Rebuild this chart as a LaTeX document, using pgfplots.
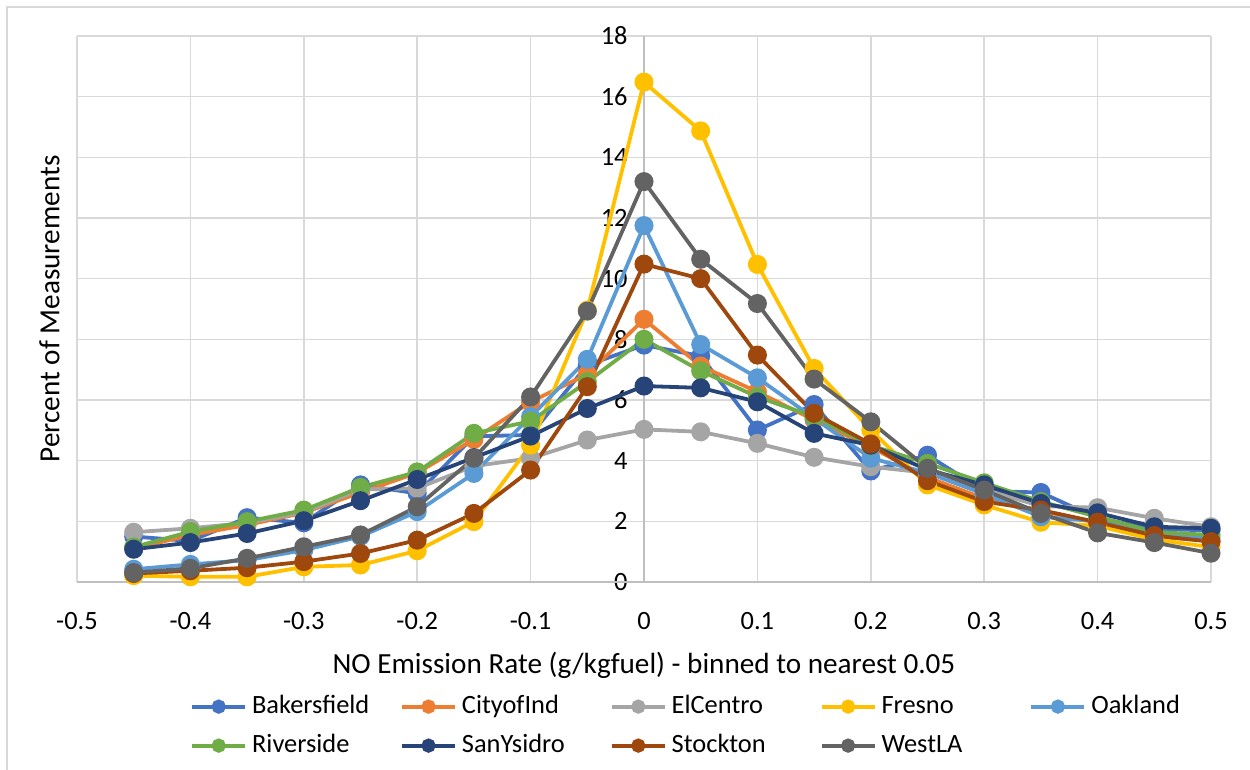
\documentclass[border=0pt]{standalone}
\usepackage{fontspec}
\setmainfont{Carlito}
\usepackage{pgfplots}
\pgfplotsset{compat=1.18}
\usepackage{pgfplotstable}

\definecolor{cBak}{HTML}{4472C4}
\definecolor{cCity}{HTML}{ED7D31}
\definecolor{cElC}{HTML}{A5A5A5}
\definecolor{cFre}{HTML}{FFC000}
\definecolor{cOak}{HTML}{5B9BD5}
\definecolor{cRiv}{HTML}{70AD47}
\definecolor{cSan}{HTML}{264478}
\definecolor{cSto}{HTML}{9E480E}
\definecolor{cWes}{HTML}{636363}
\definecolor{gridc}{HTML}{D9D9D9}
\definecolor{axisc}{HTML}{BFBFBF}

\pgfplotstableread{
x     Bak  City ElC  Fre   Oak   Riv  San  Sto   Wes
-0.45 1.50 1.10 1.64 0.21  0.42  1.15 1.08 0.28  0.31
-0.40 1.35 1.55 1.77 0.17  0.58  1.66 1.30 0.37  0.45
-0.35 2.12 1.88 1.95 0.17  0.72  1.99 1.60 0.47  0.78
-0.30 1.95 2.28 2.30 0.50  1.05  2.37 2.02 0.67  1.16
-0.25 3.20 2.95 3.05 0.56  1.50  3.12 2.68 0.94  1.55
-0.20 2.92 3.60 3.09 1.03  2.32  3.63 3.38 1.38  2.48
-0.15 4.80 4.70 3.82 1.99  3.58  4.90 4.10 2.26  4.08
-0.10 4.85 5.94 4.08 4.51  5.45  5.30 4.81 3.69  6.10
-0.05 7.15 6.85 4.68 8.96  7.34  6.60 5.72 6.44  8.93
0.00  7.81 8.66 5.03 16.48 11.75 8.00 6.46 10.48 13.20
0.05  7.45 7.12 4.95 14.87 7.83  6.96 6.40 10.00 10.64
0.10  5.01 6.27 4.57 10.47 6.73  6.10 5.94 7.48  9.18
0.15  5.85 5.34 4.11 7.04  5.40  5.45 4.90 5.56  6.69
0.20  3.66 4.45 3.80 5.01  4.08  4.50 4.51 4.55  5.28
0.25  4.18 3.45 3.60 3.20  3.60  3.91 3.70 3.34  3.75
0.30  3.00 2.75 3.05 2.54  2.90  3.27 3.20 2.65  3.03
0.35  2.95 2.35 2.50 1.97  2.15  2.65 2.59 2.37  2.26
0.40  2.10 1.95 2.45 1.85  2.00  2.15 2.28 1.97  1.62
0.45  1.75 1.50 2.10 1.40  1.60  1.65 1.82 1.53  1.30
0.50  1.70 1.35 1.82 1.15  1.45  1.55 1.77 1.33  0.95
}\data

\newcommand{\lt}[1]{\makebox[71.5pt][l]{#1}}
\newcommand{\fs}{\fontsize{14.6pt}{17pt}\selectfont}
\newcommand{\fst}{\fontsize{13.2pt}{16pt}\selectfont}

\begin{document}
\fs
\begin{tikzpicture}[x=1pt,y=1pt]
\useasboundingbox (0,0) rectangle (625,385);
\draw[gridc, line width=0.8pt] (3.4,0) -- (3.4,381.6) -- (625,381.6);
\begin{axis}[
  at={(38.5pt,94pt)}, anchor=south west,
  scale only axis, width=567pt, height=273pt,
  xmin=-0.5, xmax=0.5, ymin=0, ymax=18,
  xtick={-0.5,-0.4,-0.3,-0.2,-0.1,0,0.1,0.2,0.3,0.4,0.5},
  xticklabels={-0.5,-0.4,-0.3,-0.2,-0.1,0,0.1,0.2,0.3,0.4,0.5},
  ytick={0,2,4,6,8,10,12,14,16,18},
  yticklabels={0,2,4,6,8,10,12,14,16,18},
  major tick length=0pt,
  axis line style={draw=none},
  grid=major,
  major grid style={gridc, line width=0.8pt},
  extra x ticks={0}, extra x tick labels={},
  extra x tick style={major grid style={axisc, line width=0.8pt}},
  extra y ticks={0}, extra y tick labels={},
  extra y tick style={major grid style={axisc, line width=0.8pt}},
  tick label style={font=\fst},
  xticklabel style={anchor=base, yshift=-23.8pt},
  yticklabel style={anchor=east, inner sep=0pt, xshift=275.5pt},
  xlabel={NO Emission Rate (g/kgfuel) - binned to nearest 0.05},
  ylabel={Percent of Measurements},
  label style={font=\fs},
  xlabel style={at={(axis description cs:0.5,0)}, anchor=base, yshift=-45.8pt},
  ylabel style={at={(axis description cs:-0.0155,0.5)}, anchor=base, rotate=0},
  every axis plot/.append style={line width=1.9pt, mark=*, mark size=3.8pt},
  legend columns=5,
  legend style={draw=none, fill=none, at={(axis description cs:0.0996,-0.2037)}, anchor=north west,
    font=\fst,
    nodes={text height=10pt, text depth=3pt, inner ysep=0pt, inner xsep=2.5pt},
    row sep=6.5pt, inner sep=0pt,
    /tikz/every even column/.append style={column sep=0pt}},
  legend image code/.code={\draw[mark repeat=2,mark phase=2,mark size=2.6pt] plot coordinates {(0pt,0pt)(13.25pt,0pt)(26.5pt,0pt)};},
]
\addplot[cBak, mark options={fill=cBak}] table[x=x,y=Bak] {\data};
\addlegendentry{\lt{Bakersfield}}
\addplot[cCity, mark options={fill=cCity}] table[x=x,y=City] {\data};
\addlegendentry{\lt{CityofInd}}
\addplot[cElC, mark options={fill=cElC}] table[x=x,y=ElC] {\data};
\addlegendentry{\lt{ElCentro}}
\addplot[cFre, mark options={fill=cFre}] table[x=x,y=Fre] {\data};
\addlegendentry{\lt{Fresno}}
\addplot[cOak, mark options={fill=cOak}] table[x=x,y=Oak] {\data};
\addlegendentry{\lt{Oakland}}
\addplot[cRiv, mark options={fill=cRiv}] table[x=x,y=Riv] {\data};
\addlegendentry{\lt{Riverside}}
\addplot[cSan, mark options={fill=cSan}] table[x=x,y=San] {\data};
\addlegendentry{\lt{SanYsidro}}
\addplot[cSto, mark options={fill=cSto}] table[x=x,y=Sto] {\data};
\addlegendentry{\lt{Stockton}}
\addplot[cWes, mark options={fill=cWes}] table[x=x,y=Wes] {\data};
\addlegendentry{\lt{WestLA}}
\end{axis}
\end{tikzpicture}
\end{document}
